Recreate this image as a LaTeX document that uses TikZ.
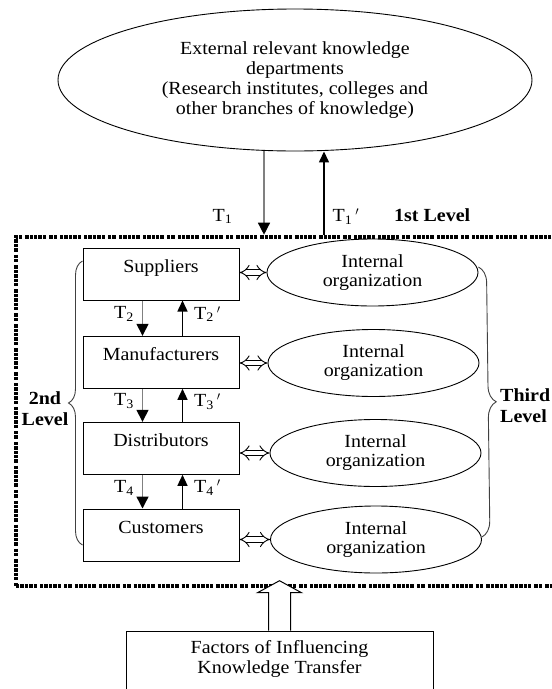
\documentclass[tikz,border=0pt]{standalone}
\usepackage{fontspec}
\setmainfont{Liberation Serif}[FakeStretch=1.08]
\usetikzlibrary{arrows.meta,shapes.geometric,decorations.pathreplacing,calc}

\begin{document}
\begin{tikzpicture}[x=1pt,y=-1pt,
  every node/.style={font=\fontsize{18.5}{20}\selectfont},
  stagebox/.style={draw, line width=1pt, minimum width=156pt, inner sep=0pt,
    text height=24pt, text depth=28pt},
  orgell/.style={ellipse, draw, line width=0.9pt, minimum width=211pt, minimum height=67pt,
    inner sep=0pt, align=center, font=\fontsize{18.5}{19}\selectfont},
  flowdown/.style={draw=black!50, line width=1.4pt, -{Triangle[length=12pt,width=12pt,black]}},
  flowup/.style={draw=black, line width=1.4pt, -{Triangle[length=11pt,width=10pt]}},
  tlabel/.style={inner sep=0pt},
  swap/.style={double, double distance=4.5pt, line width=0.9pt, {Implies}-{Implies}},
  levelnote/.style={font=\fontsize{18.5}{21}\selectfont\bfseries, align=center, inner sep=0pt},
  framebox/.style={draw, line width=4pt,
    dash pattern=on 3.4pt off 1pt on 3.4pt off 1pt on 3.4pt off 1pt on 3.4pt off 1pt on 3.4pt off 3pt
                 on 3.4pt off 1pt on 3.4pt off 1pt on 3.4pt off 1pt on 3.4pt off 1pt on 3.4pt off 3pt
                 on 3.4pt off 1pt on 3.4pt off 3pt},
  bracestyle/.style={draw=black!75, line width=0.9pt, decorate}
]
\useasboundingbox (0,0) rectangle (552,689);
\clip (0,0) rectangle (552,689);

% external knowledge source
\node[ellipse, draw, line width=0.9pt, minimum width=474pt, minimum height=142pt,
      inner sep=0pt, align=center] (ext) at (295,80)
  {External relevant knowledge\\departments\\(Research institutes, colleges and\\other branches of knowledge)};

% outer dashed frame of the supply chain
\node[framebox, minimum width=546pt, minimum height=349.3pt, anchor=north west, inner sep=0pt]
  (frame) at (14,234.7) {};

% chain members
\node[stagebox] (sup)  at (161,274)   {Suppliers};
\node[stagebox] (man)  at (161,362.3) {Manufacturers};
\node[stagebox] (dist) at (161,448.3) {Distributors};
\node[stagebox] (cust) at (161,535)   {Customers};

% internal organizations
\node[orgell] (e1) at (372.5,272.5) {Internal\\organization};
\node[orgell] (e2) at (373.5,363)   {Internal\\organization};
\node[orgell] (e3) at (375.5,453)   {Internal\\organization};
\node[orgell] (e4) at (376,539.5)   {Internal\\organization};

% first level transfers
\draw[flowdown] ([xshift=-31pt]ext.south) -- ([xshift=-31pt]ext.south |- frame.north)
  node[tlabel, pos=0.78, anchor=east, xshift=-31pt] {T\textsubscript{1}};
\draw[flowup] ([xshift=29pt]ext.south |- frame.north) -- ([xshift=29pt]ext.south)
  node[tlabel, pos=0.22, anchor=west, xshift=8pt] {T\textsubscript{1}\,$'$};
\node[levelnote, anchor=west] (lvl1) at (394,215) {1st Level};

% transfers between neighbouring members
\foreach \a/\b/\n in {sup/man/2, man/dist/3, dist/cust/4} {
  \draw[flowdown] ([xshift=-18.5pt]\a.south) -- ([xshift=-18.5pt]\b.north)
    node[tlabel, midway, anchor=east, xshift=-8pt, yshift=4pt] {T\textsubscript{\n}};
  \draw[flowup] ([xshift=21.5pt]\b.north) -- ([xshift=21.5pt]\a.south)
    node[tlabel, midway, anchor=west, xshift=11pt, yshift=4pt] {T\textsubscript{\n}\,$'$};
}

% exchange with the internal organizations
\foreach \a/\b in {sup/e1, man/e2, dist/e3, cust/e4} {
  \draw[swap] (\a.east |- \b.center) -- (\b.west);
}

% second and third level braces
\draw[bracestyle, decoration={brace, amplitude=14pt}]
  ([yshift=-10pt]cust.west) -- ([yshift=13pt]sup.west);
\node[levelnote] (lvl2) at (45,409) {2nd\\Level};
\draw[bracestyle, decoration={brace, amplitude=16pt}]
  ([yshift=5.5pt]e1.east) -- ([yshift=2.5pt]e4.east);
\node[levelnote, anchor=west, align=left] (lvl3) at (500,406) {Third\\Level};

% influencing factors
\node[draw, line width=1pt, minimum width=307pt, minimum height=90pt, anchor=north, inner sep=0pt]
  (fac) at (279.5,630.7) {};
\node[anchor=north, align=center, inner sep=0pt] (factxt) at ([yshift=-10pt]fac.north)
  {Factors of Influencing\\Knowledge Transfer};
\draw[line width=1pt, fill=white]
  ([xshift=-11pt]fac.north) -- ++(0,-38) -- ++(-11,0) -- ([yshift=50pt]fac.north)
  -- ([shift={(22pt,38pt)}]fac.north) -- ++(-11,0) -- ([xshift=11pt]fac.north);
\end{tikzpicture}
\end{document}
